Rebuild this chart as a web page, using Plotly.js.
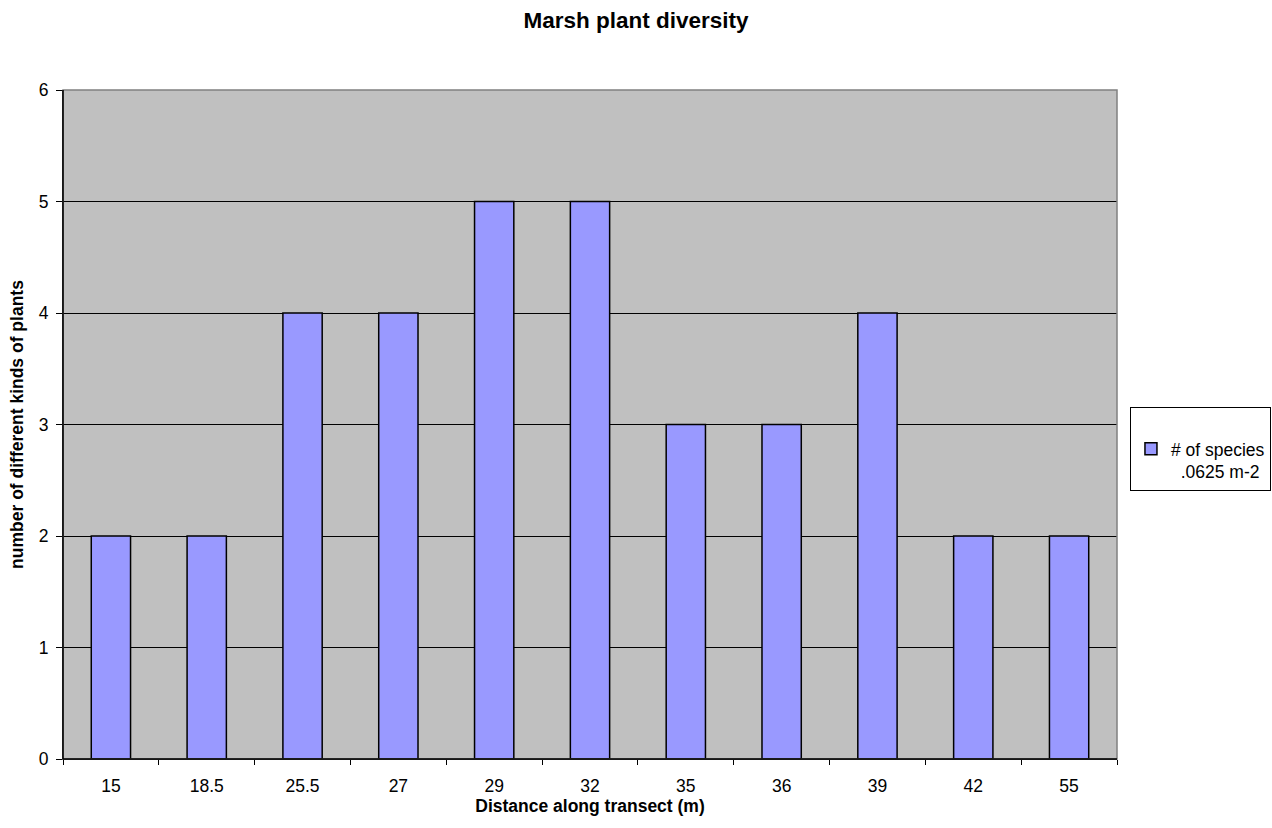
<!DOCTYPE html>
<html>
<head>
<meta charset="utf-8">
<script src="https://cdn.plot.ly/plotly-3.0.1.min.js"></script>
<style>html,body{margin:0;padding:0;background:#fff;}#chart{width:1272px;height:828px;}</style>
</head>
<body>
<div id="chart"></div>
<script>
var distances = ['15', '18.5', '25.5', '27', '29', '32', '35', '36', '39', '42', '55'];
var speciesCount = [2, 2, 4, 4, 5, 5, 3, 3, 4, 2, 2];
var seriesName = '# of species<br>&nbsp;&nbsp;.0625 m-2';
var yTicks = [0, 1, 2, 3, 4, 5, 6];

var font = 'Arial, "Liberation Sans", sans-serif';

var trace = {
  type: 'bar',
  x: distances,
  y: speciesCount,
  name: seriesName,
  marker: {color: '#9999FF', line: {color: '#000000', width: 1.5}},
  showlegend: true
};

var layout = {
  width: 1272,
  height: 828,
  margin: {l: 63, r: 155, t: 90, b: 69, autoexpand: false},
  paper_bgcolor: '#ffffff',
  plot_bgcolor: '#C0C0C0',
  font: {family: font, size: 17.5, color: '#000'},
  title: {text: '<b>Marsh plant diversity</b>', font: {family: font, size: 22.5}, x: 0.5, xanchor: 'center', y: 0.976, yanchor: 'middle'},
  bargap: 0.59,
  xaxis: {
    type: 'category',
    tickson: 'boundaries',
    ticks: 'outside',
    ticklen: 5,
    tickcolor: '#000',
    ticklabelstandoff: 11,
    showline: true,
    linecolor: '#000',
    linewidth: 1,
    showgrid: false,
    tickfont: {family: font, size: 17.5},
    title: {text: '<b>Distance along transect (m)</b>', font: {family: font, size: 17.5}, standoff: 3}
  },
  yaxis: {
    range: [0, 6],
    tickvals: yTicks,
    ticks: 'outside',
    ticklen: 6,
    tickcolor: '#000',
    ticklabelstandoff: 4,
    showline: true,
    linecolor: '#000',
    linewidth: 1,
    showgrid: true,
    gridcolor: '#000',
    gridwidth: 1,
    zeroline: false,
    tickfont: {family: font, size: 17.5},
    title: {text: '<b>number of different kinds of plants</b>', font: {family: font, size: 17.5}, standoff: 10}
  },
  legend: {
    x: 1.0123,
    xanchor: 'left',
    y: 0.526,
    yanchor: 'top',
    valign: 'top',
    bordercolor: '#000',
    borderwidth: 1,
    bgcolor: '#fff',
    font: {family: font, size: 17.5},
    title: {text: ' ', font: {family: font, size: 17.5}},
    itemwidth: 30
  },
  shapes: [{
    type: 'rect', xref: 'paper', yref: 'paper', x0: 0, x1: 1, y0: 0, y1: 1,
    line: {color: '#808080', width: 1.5}, fillcolor: 'rgba(0,0,0,0)', layer: 'above'
  }, {
    type: 'line', xref: 'paper', yref: 'paper', x0: 0, x1: 0, y0: 0, y1: 1,
    line: {color: '#000', width: 1.5}, layer: 'above'
  }, {
    type: 'line', xref: 'paper', yref: 'paper', x0: 0, x1: 1, y0: 0, y1: 0,
    line: {color: '#000', width: 1.5}, layer: 'above'
  }]
};

Plotly.newPlot('chart', [trace], layout, {displayModeBar: false, staticPlot: true});
</script>
</body>
</html>
